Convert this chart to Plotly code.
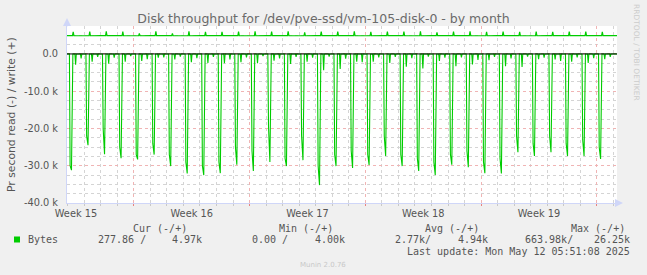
import plotly.graph_objects as go
from datetime import datetime, timedelta

# ---------------- data (values in k = 1000 bytes/s) ----------------
days = ["2025-04-09", "2025-04-10", "2025-04-11", "2025-04-12", "2025-04-13", "2025-04-14",
        "2025-04-15", "2025-04-16", "2025-04-17", "2025-04-18", "2025-04-19", "2025-04-20",
        "2025-04-21", "2025-04-22", "2025-04-23", "2025-04-24", "2025-04-25", "2025-04-26",
        "2025-04-27", "2025-04-28", "2025-04-29", "2025-04-30", "2025-05-01", "2025-05-02",
        "2025-05-03", "2025-05-04", "2025-05-05", "2025-05-06", "2025-05-07", "2025-05-08",
        "2025-05-09", "2025-05-10", "2025-05-11"]

# daily read burst (plotted negative)
read_peak_k = [31.2, 24.5, 26.9, 28.0, 28.3, 27.0, 30.1, 32.1, 32.5, 32.0, 29.7, 31.4, 29.0,
               30.1, 28.5, 35.2, 30.1, 30.6, 29.8, 27.4, 30.1, 31.4, 32.5, 29.7, 30.4, 32.0,
               32.1, 26.4, 27.4, 26.4, 27.4, 27.4, 28.2]
read_pre_k = [30.0, 22.0, 20.0, 25.0, 27.0, 24.0, 27.0, 29.0, 30.0, 29.0, 25.0, 26.0, 19.5,
              28.0, 22.0, 30.0, 27.0, 26.0, 27.0, 22.0, 27.0, 28.0, 29.0, 27.0, 26.0, 29.0,
              28.0, 22.0, 24.0, 22.0, 24.0, 23.0, 25.0]
read_dip1_k = [2.9, 2.1, 2.6, 2.1, 1.9, 1.0, 1.5, 2.2, 2.4, 2.5, 2.2, 2.5, 1.8, 2.7, 2.1, 4.4,
               4.0, 2.1, 2.1, 2.4, 3.4, 3.9, 1.9, 3.3, 2.8, 1.7, 3.3, 3.5, 1.4, 1.5, 2.1, 2.4, 1.4]
read_dip2_k = [1.2, 0.8, 1.0, 0.6, 1.4, 0.9, 0.7, 1.1, 0.8, 1.5, 0.9, 0.6, 1.2, 0.8, 1.0, 0.7,
               1.3, 2.2, 0.9, 0.8, 1.1, 0.7, 1.0, 0.9, 1.6, 0.8, 1.2, 0.7, 1.0, 1.9, 0.9, 1.1, 0.8]

# write (plotted positive)
write_base_k = [4.90, 4.88, 4.90, 4.91, 4.89, 4.90, 4.90, 4.88, 4.90, 4.91, 4.90, 4.89, 4.90,
                4.90, 4.88, 4.90, 4.91, 4.90, 4.89, 4.90, 4.90, 4.88, 4.90, 4.91, 4.90, 4.89,
                4.90, 4.90, 4.88, 4.90, 4.91, 4.90, 4.90]
write_peak_k = [5.9, 6.0, 6.1, 6.0, 5.5, 6.1, 5.5, 6.1, 5.9, 5.9, 6.0, 6.1, 6.0, 6.1, 5.8, 6.0,
                6.0, 6.1, 5.9, 6.0, 6.0, 6.1, 5.8, 6.0, 6.1, 5.9, 6.0, 5.9, 6.0, 5.9, 6.0, 6.0, 5.9]

y_tick_vals = [0, -10000, -20000, -30000, -40000]
y_tick_text = ["0.0", "-10.0 k", "-20.0 k", "-30.0 k", "-40.0 k"]
week_label_dates = ["2025-04-09 12:00", "2025-04-16 12:00", "2025-04-23 12:00",
                    "2025-04-30 12:00", "2025-05-07 12:00"]
week_labels = ["Week 15", "Week 16", "Week 17", "Week 18", "Week 19"]
week_boundaries = ["2025-04-13", "2025-04-20", "2025-04-27", "2025-05-04", "2025-05-11"]

x_start = "2025-04-08 23:00"
x_end = "2025-05-12 05:18"

legend_header = ["Cur (-/+)", "Min (-/+)", "Avg (-/+)", "Max (-/+)"]
legend_values = ["277.86 /", "4.97k", "0.00 /", "4.00k", "2.77k/", "4.94k", "663.98k/", "26.25k"]
last_update = "Last update: Mon May 12 05:51:08 2025"

# ---------------- build series ----------------
H = lambda h: timedelta(hours=h)
read_t, read_v = [datetime(2025, 4, 8, 23, 0)], [0.0]
write_t, write_v = [datetime(2025, 4, 8, 23, 0)], [write_base_k[0] * 1000]
for i, d in enumerate(days):
    D = datetime.fromisoformat(d)
    pts = [(D, 0), (D + H(2.5), 0), (D + H(3.5), -read_pre_k[i]), (D + H(5.5), -read_peak_k[i]),
           (D + H(7.5), 0), (D + H(10.5), 0), (D + H(11.5), -read_dip1_k[i]), (D + H(12.5), 0),
           (D + H(18.5), 0), (D + H(19.5), -read_dip2_k[i]), (D + H(20.5), 0)]
    for t, v in pts:
        read_t.append(t)
        read_v.append(v * 1000)
    wp = [(D, write_base_k[i]), (D + H(7), write_base_k[i]), (D + H(8), write_peak_k[i]),
          (D + H(9), write_base_k[i])]
    for t, v in wp:
        write_t.append(t)
        write_v.append(v * 1000)
read_t += [datetime(2025, 5, 12, 0, 0), datetime(2025, 5, 12, 5, 18)]
read_v += [0, 0]
write_t += [datetime(2025, 5, 12, 0, 0), datetime(2025, 5, 12, 5, 18)]
write_v += [write_base_k[-1] * 1000, write_base_k[-1] * 1000]

GREEN = "#00cc00"
FONT = "DejaVu Sans, sans-serif"
MONO = "DejaVu Sans Mono, monospace"
TXT = "#555555"

fig = go.Figure()
fig.add_trace(go.Scatter(x=read_t, y=read_v, mode="lines", line=dict(color=GREEN, width=1.1),
                         xaxis="x", yaxis="y", hoverinfo="skip", showlegend=False))
fig.add_trace(go.Scatter(x=write_t, y=write_v, mode="lines", line=dict(color=GREEN, width=1.2),
                         xaxis="x2", yaxis="y", hoverinfo="skip", showlegend=False))

W, HGT = 647, 275
L, R, T, B = 67, 617, 26, 203


def px(x):
    return (x - L) / (R - L)


def py(y):
    return (B - y) / (B - T)


fig.update_layout(
    width=W, height=HGT,
    margin=dict(l=L, r=W - R, t=T, b=HGT - B, pad=0),
    paper_bgcolor="#f0f0f0", plot_bgcolor="#ffffff",
    showlegend=False,
    title=dict(text="Disk throughput for /dev/pve-ssd/vm-105-disk-0 - by month",
               x=0.5, xanchor="center", y=1 - 19 / HGT, yanchor="middle",
               font=dict(family=FONT, size=12.5, color="#6a6a6a")),
    xaxis=dict(type="date", range=[x_start, x_end], tickmode="array",
               tickvals=week_label_dates, ticktext=week_labels, showgrid=False,
               ticks="", tickfont=dict(family=FONT, size=9.8, color=TXT),
               showline=True, linecolor="#cfd6f8", linewidth=1, zeroline=False,
               ticklabelstandoff=1,
               minor=dict(tickmode="linear", tick0="2025-04-13", dtick=86400000,
                          showgrid=True, gridcolor="#d4d4d4", griddash="dot", gridwidth=1,
                          ticks="outside", ticklen=2, tickcolor="#c8c8c8")),
    xaxis2=dict(type="date", overlaying="x", matches="x", side="bottom", tickmode="array",
                tickvals=week_boundaries, showticklabels=False, showgrid=True,
                gridcolor="#f0b4b4", griddash="dot", gridwidth=1, ticks="outside",
                ticklen=2, tickcolor="#e88080", zeroline=False, showline=False),
    yaxis=dict(range=[-40000, 7500], tickmode="array", tickvals=y_tick_vals,
               ticktext=y_tick_text, showgrid=True, gridcolor="#f0b4b4", griddash="dot",
               gridwidth=1, zeroline=False, ticks="",
               tickfont=dict(family=FONT, size=9.8, color=TXT), ticklabelstandoff=6,
               showline=True, linecolor="#cfd6f8", linewidth=1,
               minor=dict(tickmode="linear", tick0=0, dtick=2500, showgrid=True,
                          gridcolor="#d4d4d4", griddash="dot", gridwidth=1)),
)

# black zero rule on top of data
fig.add_shape(type="line", xref="paper", x0=0, x1=1, yref="y", y0=0, y1=0,
              line=dict(color="#000000", width=1), layer="above")

ann = []
# y axis title
ann.append(dict(x=px(12), y=py(115), xref="paper", yref="paper",
                text="Pr second read (-) / write (+)", textangle=-90, showarrow=False,
                xanchor="center", yanchor="middle",
                font=dict(family=FONT, size=10.8, color=TXT)))
# axis arrows
ann.append(dict(x=0, y=py(18), xref="paper", yref="paper", ax=0, ay=10, axref="pixel",
                ayref="pixel", showarrow=True, arrowhead=2, arrowsize=1.6, arrowwidth=1,
                arrowcolor="#cfd6f8", text=""))
ann.append(dict(x=px(623), y=0, xref="paper", yref="paper", ax=-8, ay=0, showarrow=True,
                arrowhead=2, arrowsize=1.6, arrowwidth=1, arrowcolor="#cfd6f8", text=""))
# watermark
ann.append(dict(x=px(637), y=py(52), xref="paper", yref="paper", text="RRDTOOL / TOBI OETIKER",
                textangle=90, showarrow=False, font=dict(family=FONT, size=7.5, color="#cccccc"),
                xanchor="center", yanchor="middle"))
# legend header
for txt, xr in zip(legend_header, [189, 334.5, 480.5, 627]):
    ann.append(dict(x=px(xr), y=py(228), xref="paper", yref="paper", text=txt, showarrow=False,
                    xanchor="right", yanchor="middle", font=dict(family=MONO, size=10, color=TXT)))
# legend row
ann.append(dict(x=px(26), y=py(239.5), xref="paper", yref="paper", text="Bytes", showarrow=False,
                xanchor="left", yanchor="middle", font=dict(family=MONO, size=10, color=TXT)))
anchors = [("left", 96), ("right", 204), ("left", 250), ("right", 346.7),
           ("left", 392.7), ("right", 490), ("left", 523.3), ("right", 632.3)]
for txt, (anc, xx) in zip(legend_values, anchors):
    ann.append(dict(x=px(xx), y=py(239.5), xref="paper", yref="paper", text=txt, showarrow=False,
                    xanchor=anc, yanchor="middle", font=dict(family=MONO, size=10, color=TXT)))
ann.append(dict(x=px(632.3), y=py(251), xref="paper", yref="paper", text=last_update,
                showarrow=False, xanchor="right", yanchor="middle",
                font=dict(family=MONO, size=10, color=TXT)))
ann.append(dict(x=px(322.7), y=py(264.5), xref="paper", yref="paper", text="Munin 2.0.76",
                showarrow=False, xanchor="center", yanchor="middle",
                font=dict(family=FONT, size=7, color="#c8c8c8")))
fig.update_layout(annotations=ann)

# legend colour swatch
fig.add_shape(type="rect", xref="paper", yref="paper", x0=px(14), x1=px(20), y0=py(242.5),
              y1=py(236.5), fillcolor=GREEN, line=dict(width=0))

fig.write_html("out.html")
